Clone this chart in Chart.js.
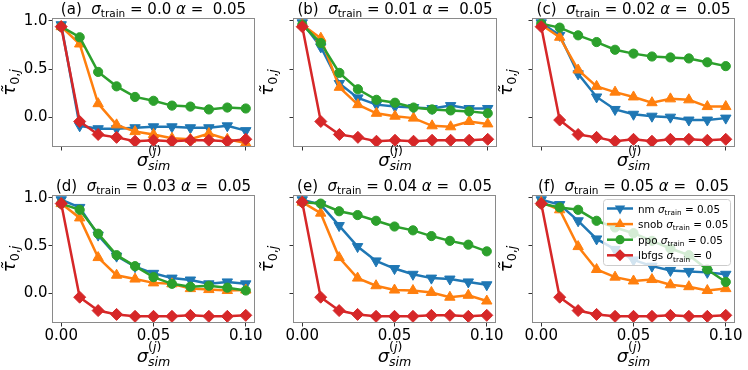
<!DOCTYPE html>
<html>
<head>
<meta charset="utf-8">
<script src="https://cdn.jsdelivr.net/npm/chart.js@4.4.1/dist/chart.umd.min.js"></script>
<style>
  html, body { margin: 0; padding: 0; background: #fff; }
  #wrap { position: relative; width: 748px; height: 370px; }
  #wrap canvas { position: absolute; left: 0; top: 0; }
</style>
</head>
<body>
<div id="wrap"></div>
<script>
// x values (sigma_sim) shared by every panel
const sigmaSim = [0.00, 0.01, 0.02, 0.03, 0.04, 0.05, 0.06, 0.07, 0.08, 0.09, 0.10];
const panelLetters = ['a', 'b', 'c', 'd', 'e', 'f'];
const sigmaTrain = ['0.0', '0.01', '0.02', '0.03', '0.04', '0.05'];
const alphaValue = '0.05';
const xTicks = [0, 0.05, 0.10];
const xTickLabels = ['0.00', '0.05', '0.10'];
const yTicks = [0, 0.5, 1.0];
const yTickLabels = ['0.0', '0.5', '1.0'];
const seriesNames = ['nm', 'snob', 'ppo', 'lbfgs'];
const legendTrain = ['0.05', '0.05', '0.05', '0'];

// (a) sigma_train = 0.0
const nmA    = [0.96, -0.09, -0.12, -0.12, -0.11, -0.10, -0.10, -0.11, -0.11, -0.09, -0.14];
const snobA  = [0.94, 0.76, 0.14, -0.08, -0.15, -0.18, -0.22, -0.23, -0.17, -0.23, -0.27];
const ppoA   = [0.94, 0.83, 0.47, 0.32, 0.21, 0.17, 0.12, 0.11, 0.08, 0.10, 0.09];
const lbfgsA = [0.94, -0.045, -0.18, -0.21, -0.25, -0.24, -0.25, -0.24, -0.24, -0.25, -0.23];
// (b) sigma_train = 0.01
const nmB    = [0.98, 0.73, 0.35, 0.20, 0.13, 0.11, 0.10, 0.09, 0.12, 0.09, 0.09];
const snobB  = [0.96, 0.82, 0.31, 0.13, 0.04, 0.01, -0.01, -0.09, -0.10, -0.045, -0.07];
const ppoB   = [0.96, 0.77, 0.46, 0.29, 0.18, 0.15, 0.10, 0.08, 0.07, 0.06, 0.04];
const lbfgsB = [0.94, -0.045, -0.18, -0.21, -0.25, -0.24, -0.25, -0.24, -0.24, -0.24, -0.23];
// (c) sigma_train = 0.02
const nmC    = [0.98, 0.85, 0.45, 0.21, 0.08, 0.03, 0.01, 0.00, -0.03, -0.03, -0.01];
const snobC  = [0.96, 0.83, 0.49, 0.32, 0.26, 0.21, 0.15, 0.19, 0.18, 0.11, 0.11];
const ppoC   = [0.97, 0.93, 0.85, 0.78, 0.70, 0.66, 0.63, 0.62, 0.61, 0.57, 0.53];
const lbfgsC = [0.94, -0.03, -0.18, -0.21, -0.25, -0.23, -0.25, -0.23, -0.23, -0.24, -0.23];
// (d) sigma_train = 0.03
const nmD    = [0.98, 0.90, 0.61, 0.39, 0.28, 0.21, 0.16, 0.14, 0.10, 0.12, 0.10];
const snobD  = [0.94, 0.79, 0.375, 0.19, 0.15, 0.11, 0.10, 0.05, 0.04, 0.03, 0.035];
const ppoD   = [0.94, 0.875, 0.625, 0.40, 0.285, 0.17, 0.10, 0.07, 0.08, 0.06, 0.03];
const lbfgsD = [0.94, -0.04, -0.18, -0.22, -0.24, -0.24, -0.24, -0.23, -0.24, -0.24, -0.23];
// (e) sigma_train = 0.04
const nmE    = [0.98, 0.93, 0.71, 0.49, 0.34, 0.26, 0.20, 0.16, 0.15, 0.12, 0.09];
const snobE  = [0.955, 0.84, 0.375, 0.16, 0.08, 0.035, 0.03, 0.01, -0.04, -0.02, -0.08];
const ppoE   = [0.955, 0.94, 0.86, 0.82, 0.76, 0.70, 0.66, 0.60, 0.55, 0.51, 0.44];
const lbfgsE = [0.955, -0.04, -0.18, -0.22, -0.24, -0.24, -0.24, -0.23, -0.23, -0.24, -0.23];
// (f) sigma_train = 0.05
const nmF    = [0.98, 0.93, 0.76, 0.57, 0.46, 0.35, 0.285, 0.24, 0.23, 0.22, 0.20];
const snobF  = [0.955, 0.875, 0.49, 0.25, 0.17, 0.13, 0.145, 0.09, 0.07, 0.03, 0.05];
const ppoF   = [0.94, 0.90, 0.875, 0.76, 0.69, 0.63, 0.55, 0.47, 0.40, 0.25, 0.12];
const lbfgsF = [0.94, -0.04, -0.18, -0.22, -0.24, -0.24, -0.24, -0.23, -0.24, -0.24, -0.23];

const seriesPanels = [
  [nmA, nmB, nmC, nmD, nmE, nmF],
  [snobA, snobB, snobC, snobD, snobE, snobF],
  [ppoA, ppoB, ppoC, ppoD, ppoE, ppoF],
  [lbfgsA, lbfgsB, lbfgsC, lbfgsD, lbfgsE, lbfgsF]
];

// styling
const colors = ['#1f77b4', '#ff7f0e', '#2ca02c', '#d62728'];
const markerStyle = ['triangle', 'triangle', 'circle', 'rectRot'];
const markerRot = [180, 0, 0, 0];
const markerRadius = [6, 6, 4.6, 6];
const FONT = '"DejaVu Sans", sans-serif';
const Y_W = 40, X_H = 30;
const boxes = [
  { l: 52, t: 18, r: 255, b: 147 }, { l: 293, t: 18, r: 497, b: 147 }, { l: 532, t: 18, r: 735, b: 147 },
  { l: 52, t: 195, r: 255, b: 323 }, { l: 293, t: 195, r: 496, b: 323 }, { l: 532, t: 195, r: 735, b: 323 }
];

Chart.defaults.font.family = FONT;
Chart.defaults.font.size = 15;
Chart.defaults.color = '#000';

// tiny rich text helper (sub/superscripts, italics)
const R = (t, f) => ({ t, f: f || '' });
function runFont(r, size) {
  const small = r.f.includes('_') || r.f.includes('^');
  return (r.f.includes('i') ? 'italic ' : '') + (small ? size * 0.7 : size).toFixed(1) + 'px ' + FONT;
}
function runsWidth(ctx, runs, size) {
  let w = 0;
  for (const r of runs) {
    if (r.stack) w += Math.max(...r.stack.map(g => runsWidth(ctx, g, size)));
    else { ctx.font = runFont(r, size); w += ctx.measureText(r.t).width; }
  }
  return w;
}
function drawRuns(ctx, runs, x, y, size) {
  for (const r of runs) {
    if (r.stack) {
      r.stack.forEach(g => drawRuns(ctx, g, x, y, size));
      x += Math.max(...r.stack.map(g => runsWidth(ctx, g, size)));
      continue;
    }
    ctx.font = runFont(r, size);
    let dy = 0;
    if (r.f.includes('_')) dy = size * 0.22;
    if (r.f.includes('^')) dy = -size * 0.62;
    ctx.fillText(r.t, x, y + dy);
    x += ctx.measureText(r.t).width;
  }
}
function drawRich(ctx, runs, x, y, size, align) {
  const w = runsWidth(ctx, runs, size);
  const x0 = align === 'center' ? x - w / 2 : x;
  ctx.textAlign = 'left';
  ctx.textBaseline = 'alphabetic';
  ctx.fillStyle = '#000';
  drawRuns(ctx, runs, x0, y, size);
}

function drawMarker(ctx, k, x, y) {
  const r = markerRadius[k];
  ctx.beginPath();
  if (markerStyle[k] === 'circle') {
    ctx.arc(x, y, r, 0, Math.PI * 2);
  } else if (markerStyle[k] === 'rectRot') {
    ctx.moveTo(x, y - r); ctx.lineTo(x + r, y); ctx.lineTo(x, y + r); ctx.lineTo(x - r, y);
  } else {
    let a = markerRot[k] * Math.PI / 180;
    for (let n = 0; n < 3; n++) {
      const px = x + Math.sin(a) * r, py = y - Math.cos(a) * r;
      n === 0 ? ctx.moveTo(px, py) : ctx.lineTo(px, py);
      a += Math.PI * 2 / 3;
    }
  }
  ctx.closePath();
  ctx.fillStyle = colors[k];
  ctx.fill();
}

function panelPlugin(i) {
  const row = Math.floor(i / 3), col = i % 3;
  return {
    id: 'panelDecor' + i,
    afterDraw(chart) {
      const ctx = chart.ctx;
      const a = chart.chartArea;
      ctx.save();
      // frame
      ctx.strokeStyle = '#8a8a8a';
      ctx.lineWidth = 1;
      ctx.strokeRect(Math.round(a.left) + 0.5, Math.round(a.top) + 0.5,
                     Math.round(a.right - a.left) - 1, Math.round(a.bottom - a.top) - 1);
      // title
      const title = [R('(' + panelLetters[i] + ')  '), R('σ', 'i'), R('train', '_'),
                     R(' = ' + sigmaTrain[i] + ' '), R('α', 'i'), R(' =  ' + alphaValue)];
      drawRich(ctx, title, (a.left + a.right) / 2, a.top - 4, 15, 'center');
      // x label
      const xl = [R('σ', 'i'), { stack: [[R('(', '^'), R('j', 'i^'), R(')', '^')], [R('sim', 'i_')]] }];
      drawRich(ctx, xl, (a.left + a.right) / 2, a.bottom + (row === 0 ? 19 : 39), 18, 'center');
      // y label
      ctx.save();
      ctx.translate(a.left - (col === 0 ? 37 : 20), (a.top + a.bottom) / 2);
      ctx.rotate(-Math.PI / 2);
      drawRich(ctx, [R('τ̃', 'i'), R('0,', '_'), R('j', 'i_')], 0, 0, 18, 'center');
      ctx.restore();
      // legend in panel (f)
      if (i === 5) {
        const lx = 603, ly = 199, lw = 127, lh = 66;
        ctx.beginPath();
        ctx.roundRect(lx + 0.5, ly + 0.5, lw, lh, 3);
        ctx.fillStyle = 'rgba(255,255,255,0.8)';
        ctx.fill();
        ctx.strokeStyle = '#cccccc';
        ctx.stroke();
        seriesNames.forEach((name, k) => {
          const cy = ly + 9.5 + k * 15.6;
          ctx.strokeStyle = colors[k];
          ctx.lineWidth = 2.5;
          ctx.beginPath();
          ctx.moveTo(607, cy); ctx.lineTo(633, cy);
          ctx.stroke();
          drawMarker(ctx, k, 620, cy);
          drawRich(ctx, [R(name + ' '), R('σ', 'i'), R('train', '_'), R(' = ' + legendTrain[k])],
                   638, cy + 4, 10.4, 'left');
        });
      }
      ctx.restore();
    }
  };
}

function makeChart(i) {
  const box = boxes[i];
  const row = Math.floor(i / 3), col = i % 3;
  const canvas = document.createElement('canvas');
  canvas.width = 748; canvas.height = 370;
  canvas.style.width = '748px'; canvas.style.height = '370px';
  document.getElementById('wrap').appendChild(canvas);

  const datasets = seriesNames.map((name, k) => ({
    label: name,
    data: sigmaSim.map((x, j) => ({ x: x, y: seriesPanels[k][i][j] })),
    borderColor: colors[k],
    backgroundColor: colors[k],
    pointBackgroundColor: colors[k],
    pointBorderColor: colors[k],
    pointBorderWidth: 1,
    borderWidth: 2.5,
    pointStyle: markerStyle[k],
    pointRotation: markerRot[k],
    pointRadius: markerRadius[k],
    tension: 0,
    order: 4 - k
  }));

  new Chart(canvas, {
    type: 'line',
    data: { datasets },
    options: {
      responsive: false,
      animation: false,
      events: [],
      layout: { padding: { left: box.l - Y_W, right: 748 - box.r, top: box.t, bottom: 370 - box.b - X_H } },
      plugins: { legend: { display: false }, tooltip: { enabled: false } },
      scales: {
        x: {
          type: 'linear', min: -0.005, max: 0.105,
          afterFit: s => { s.height = X_H; },
          afterBuildTicks: s => { s.ticks = xTicks.map(v => ({ value: v })); },
          ticks: { display: row === 1, padding: 1, maxRotation: 0, autoSkip: false,
                   callback: (v, idx) => xTickLabels[idx] },
          grid: { drawOnChartArea: false, drawTicks: true, tickLength: 3.5, color: '#333' },
          border: { display: false }
        },
        y: {
          min: -0.31, max: 1.03,
          afterFit: s => { s.width = Y_W; },
          afterBuildTicks: s => { s.ticks = yTicks.map(v => ({ value: v })); },
          ticks: { display: col === 0, padding: 1, callback: (v, idx) => yTickLabels[idx] },
          grid: { drawOnChartArea: false, drawTicks: true, tickLength: 3.5, color: '#333' },
          border: { display: false }
        }
      }
    },
    plugins: [panelPlugin(i)]
  });
}

for (let i = 0; i < 6; i++) makeChart(i);
</script>
</body>
</html>
